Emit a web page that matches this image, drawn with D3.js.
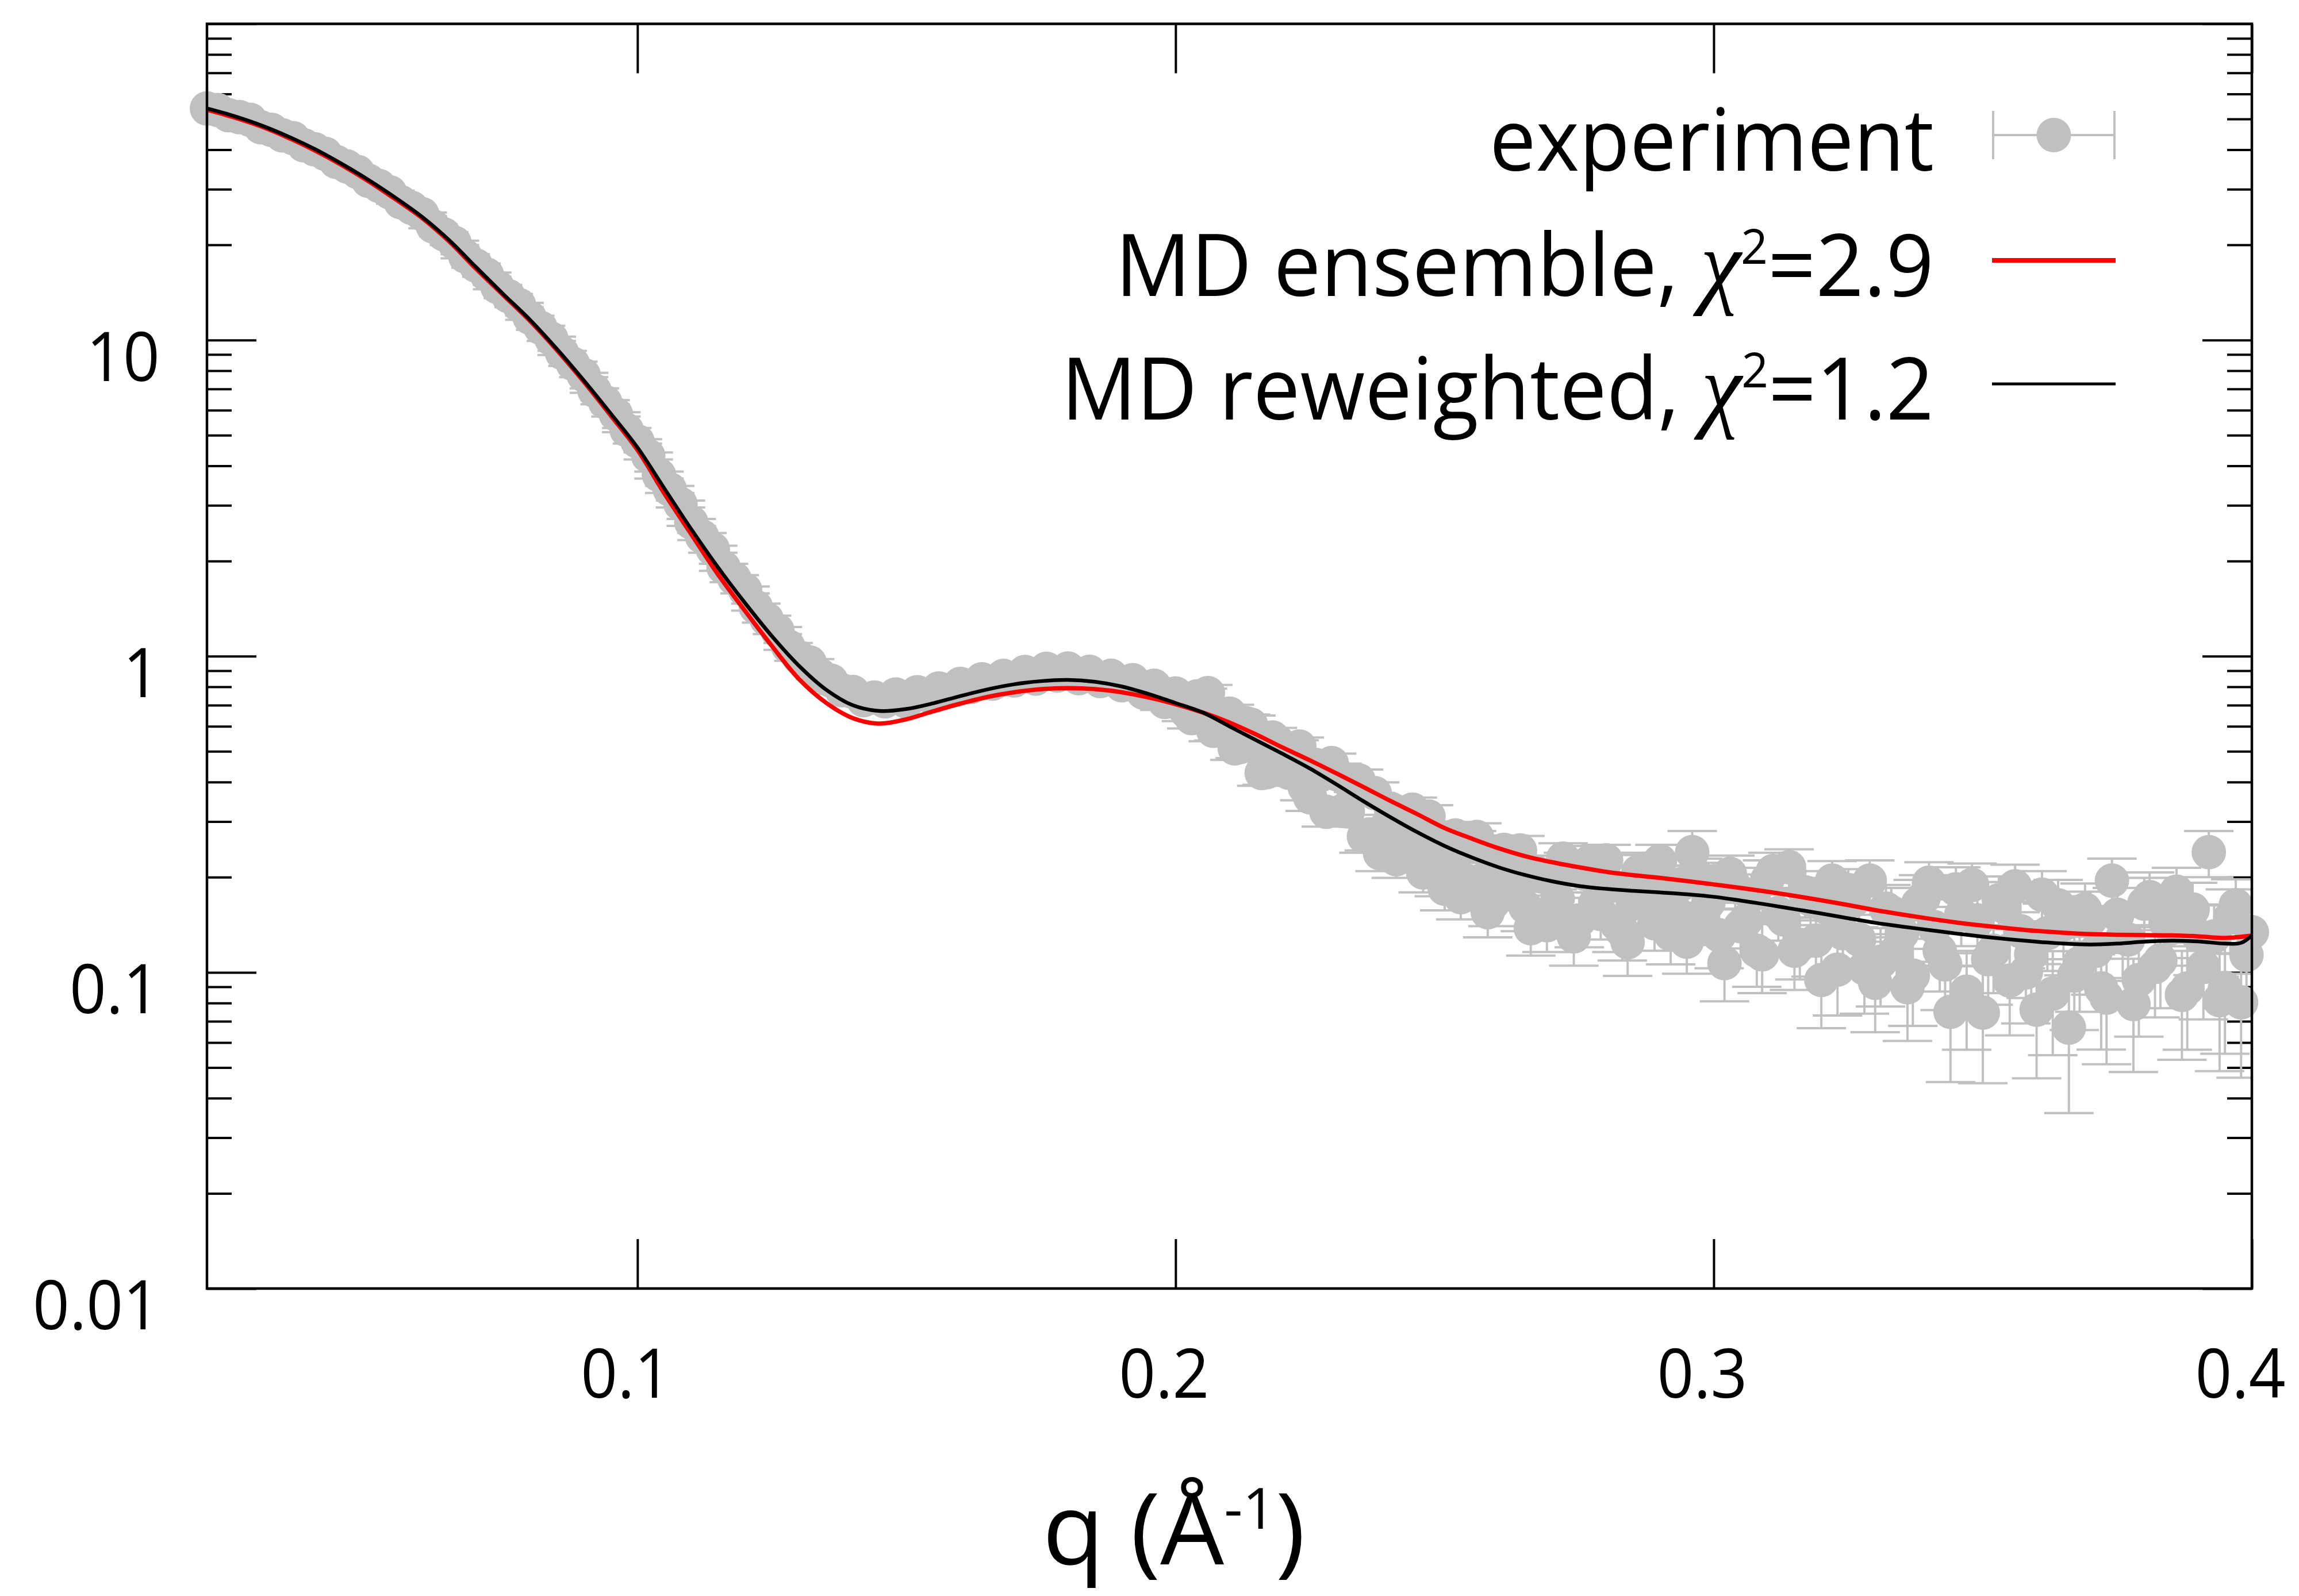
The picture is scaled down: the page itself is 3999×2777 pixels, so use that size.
<!DOCTYPE html>
<html><head><meta charset="utf-8">
<script src="https://cdn.jsdelivr.net/npm/d3@7"></script>
<style>html,body{margin:0;padding:0;background:#fff;} svg{display:block;} text{white-space:pre;}</style>
</head><body>
<svg id="chart" width="3999" height="2777"></svg>
<script>
// ---------------- DATA ----------------
// experiment, main q grid
const qExp = [
0.020,0.022,0.024,0.026,0.028,0.030,0.032,0.034,0.036,0.038,
0.040,0.042,0.044,0.046,0.048,0.050,0.052,0.054,0.056,0.058,
0.060,0.062,0.064,0.066,0.068,0.070,0.072,0.074,0.076,0.078,
0.080,0.082,0.084,0.086,0.088,0.090,0.092,0.094,0.096,0.098,
0.100,0.102,0.104,0.106,0.108,0.110,0.112,0.114,0.116,0.118,
0.120,0.122,0.124,0.126,0.128,0.130,0.132,0.134,0.136,0.138,
0.140,0.142,0.144,0.146,0.148,0.150,0.152,0.154,0.156,0.158,
0.160,0.162,0.164,0.166,0.168,0.170,0.172,0.174,0.176,0.178,
0.180,0.182,0.184,0.186,0.188,0.190,0.192,0.194,0.196,0.198,
0.200,0.202,0.204,0.206,0.208,0.210,0.212,0.214,0.216,0.218,
0.220,0.222,0.224,0.226,0.228,0.230,0.232,0.234,0.236,0.238,
0.240,0.242,0.244,0.246,0.248,0.250,0.252,0.254,0.256,0.258,
0.260,0.262,0.264,0.266,0.268,0.270,0.272,0.274,0.276,0.278,
0.280,0.282,0.284,0.286,0.288,0.290,0.292,0.294,0.296,0.298,
0.300,0.302,0.304,0.306,0.308,0.310,0.312,0.314,0.316,0.318,
0.320,0.322,0.324,0.326,0.328,0.330,0.332,0.334,0.336,0.338,
0.340,0.342,0.344,0.346,0.348,0.350,0.352,0.354,0.356,0.358,
0.360,0.362,0.364,0.366,0.368,0.370,0.372,0.374,0.376,0.378,
0.380,0.382,0.384,0.386,0.388,0.390,0.392,0.394,0.396,0.398,
0.400];
const iExp = [
54.0,53.4,51.4,50.7,49.7,47.1,46.2,44.4,43.5,41.3,
40.1,38.8,36.6,35.4,34.0,31.9,30.7,29.3,27.3,26.2,
25.0,22.9,21.6,20.3,18.4,17.2,16.1,14.7,13.77,12.9,
11.76,10.93,10.09,9.10,8.41,7.75,6.92,6.36,5.82,5.19,
4.78,4.30,3.74,3.37,3.03,2.65,2.39,2.18,1.91,1.76,
1.62,1.43,1.31,1.206,1.074,0.992,0.955,0.869,0.836,0.780,
0.771,0.726,0.740,0.720,0.756,0.718,0.769,0.751,0.790,0.776,
0.817,0.799,0.845,0.819,0.866,0.838,0.891,0.849,0.912,0.868,
0.914,0.852,0.892,0.834,0.867,0.809,0.840,0.767,0.806,0.717,
0.762,0.668,0.746,0.764,0.583,0.658,0.516,0.607,0.427,0.553,
0.447,0.504,0.385,0.453,0.322,0.423,0.323,0.405,0.273,0.238,
0.329,0.262,0.327,0.207,0.271,0.184,0.271,0.195,0.268,0.155,
0.231,0.183,0.243,0.138,0.201,0.157,0.229,0.130,0.205,0.165,
0.226,0.142,0.1245,0.208,0.168,0.225,0.132,0.190,0.240,0.149,
0.194,0.107,0.186,0.146,0.117,0.197,0.154,0.215,0.122,0.170,
0.0946,0.195,0.133,0.169,0.103,0.0927,0.159,0.117,0.0897,0.165,
0.192,0.117,0.075,0.152,0.189,0.0746,0.117,0.161,0.187,0.0999,
0.0762,0.133,0.163,0.0669,0.107,0.147,0.089,0.195,0.129,0.0794,
0.165,0.104,0.144,0.180,0.0889,0.131,0.240,0.0817,0.149,0.0804,
0.134];
const errExp = [
0.65,0.64,0.62,0.61,0.60,0.58,0.56,0.54,0.53,0.50,
0.49,0.47,0.45,0.43,0.42,0.39,0.38,0.36,0.33,0.32,
0.31,0.35,0.33,0.31,0.28,0.26,0.25,0.23,0.21,0.20,
0.18,0.17,0.155,0.14,0.13,0.12,0.11,0.097,0.089,0.080,
0.073,0.11,0.095,0.086,0.077,0.067,0.061,0.055,0.049,0.045,
0.041,0.036,0.033,0.031,0.027,0.025,0.024,0.022,0.021,0.020,
0.019,0.029,0.030,0.029,0.031,0.030,0.032,0.032,0.034,0.034,
0.036,0.036,0.038,0.037,0.040,0.039,0.042,0.040,0.044,0.042,
0.045,0.043,0.045,0.043,0.045,0.043,0.045,0.042,0.045,0.041,
0.045,0.045,0.046,0.047,0.042,0.044,0.040,0.042,0.038,0.040,
0.037,0.038,0.035,0.036,0.033,0.034,0.032,0.033,0.030,0.029,
0.031,0.029,0.030,0.028,0.029,0.027,0.028,0.027,0.028,0.026,
0.027,0.026,0.027,0.025,0.026,0.026,0.027,0.025,0.026,0.026,
0.027,0.026,0.027,0.027,0.026,0.028,0.026,0.027,0.040,0.027,
0.028,0.026,0.028,0.027,0.027,0.029,0.028,0.030,0.027,0.029,
0.028,0.030,0.029,0.030,0.029,0.028,0.030,0.029,0.029,0.031,
0.031,0.030,0.030,0.031,0.032,0.030,0.031,0.032,0.032,0.031,
0.030,0.032,0.033,0.031,0.032,0.033,0.032,0.034,0.033,0.031,
0.034,0.032,0.033,0.034,0.032,0.033,0.040,0.033,0.034,0.034,
0.035];
// experiment, interleaved high-q points
const qExpHi = [
0.201,0.203,0.205,0.207,0.209,0.211,0.213,0.215,0.217,0.219,
0.221,0.223,0.225,0.227,0.229,0.231,0.233,0.235,0.237,0.239,
0.241,0.243,0.245,0.247,0.249,0.251,0.253,0.255,0.257,0.259,
0.261,0.263,0.265,0.267,0.269,0.271,0.273,0.275,0.277,0.279,
0.281,0.283,0.285,0.287,0.289,0.291,0.293,0.295,0.297,0.299,
0.301,0.303,0.305,0.307,0.309,0.311,0.313,0.315,0.317,0.319,
0.321,0.323,0.325,0.327,0.329,0.331,0.333,0.335,0.337,0.339,
0.341,0.343,0.345,0.347,0.349,0.351,0.353,0.355,0.357,0.359,
0.361,0.363,0.365,0.367,0.369,0.371,0.373,0.375,0.377,0.379,
0.381,0.383,0.385,0.387,0.389,0.391,0.393,0.395,0.397,0.399];
const iExpHi = [
0.735,0.637,0.745,0.581,0.626,0.511,0.614,0.518,0.430,0.535,
0.428,0.518,0.358,0.421,0.459,0.324,0.378,0.269,0.369,0.286,
0.228,0.294,0.236,0.311,0.201,0.236,0.173,0.253,0.196,0.166,
0.244,0.193,0.161,0.207,0.141,0.171,0.213,0.146,0.224,0.153,
0.188,0.135,0.165,0.212,0.143,0.191,0.155,0.125,0.201,0.166,
0.131,0.205,0.140,0.175,0.114,0.209,0.147,0.117,0.179,0.126,
0.160,0.102,0.182,0.127,0.195,0.108,0.155,0.133,0.0977,0.172,
0.139,0.106,0.183,0.0869,0.146,0.110,0.169,0.0942,0.135,0.114,
0.176,0.0857,0.142,0.0977,0.158,0.117,0.0832,0.152,0.127,0.0946,
0.173,0.109,0.138,0.0849,0.158,0.104,0.130,0.0893,0.163,0.1135];
const errExpHi = [
0.045,0.046,0.044,0.043,0.042,0.041,0.040,0.039,0.038,0.037,
0.036,0.035,0.034,0.033,0.033,0.032,0.031,0.030,0.030,0.029,
0.029,0.028,0.028,0.027,0.027,0.027,0.026,0.027,0.026,0.026,
0.027,0.026,0.026,0.027,0.025,0.026,0.026,0.026,0.027,0.026,
0.027,0.026,0.027,0.027,0.026,0.027,0.027,0.026,0.028,0.027,
0.028,0.029,0.028,0.029,0.028,0.030,0.029,0.029,0.030,0.029,
0.030,0.029,0.030,0.030,0.031,0.030,0.030,0.031,0.030,0.031,
0.031,0.030,0.032,0.030,0.031,0.031,0.032,0.031,0.032,0.031,
0.033,0.031,0.032,0.032,0.033,0.032,0.032,0.033,0.033,0.032,
0.034,0.032,0.033,0.032,0.034,0.033,0.033,0.034,0.034,0.034];

const qEnsemble = [
0.020,0.025,0.030,0.035,0.040,0.045,0.050,0.055,0.060,0.065,
0.070,0.075,0.080,0.085,0.090,0.095,0.100,0.105,0.110,0.115,
0.120,0.125,0.130,0.135,0.140,0.145,0.150,0.155,0.160,0.165,
0.170,0.175,0.180,0.185,0.190,0.195,0.200,0.205,0.210,0.215,
0.220,0.225,0.230,0.235,0.240,0.245,0.250,0.255,0.260,0.265,
0.270,0.275,0.280,0.285,0.290,0.295,0.300,0.305,0.310,0.315,
0.320,0.325,0.330,0.335,0.340,0.345,0.350,0.355,0.360,0.365,
0.370,0.375,0.380,0.385,0.390,0.395,0.400];
const iEnsemble = [
53.5,50.6,47.4,43.7,39.8,35.8,31.8,27.9,24.3,20.5,
16.8,13.9,11.5,9.30,7.39,5.78,4.49,3.27,2.43,1.81,
1.39,1.076,0.847,0.713,0.637,0.612,0.632,0.670,0.708,0.743,
0.769,0.787,0.793,0.787,0.769,0.740,0.705,0.664,0.617,0.565,
0.513,0.468,0.425,0.385,0.348,0.316,0.286,0.265,0.247,0.233,
0.223,0.215,0.208,0.203,0.199,0.1945,0.1897,0.1849,0.1799,0.1746,
0.1690,0.1633,0.1574,0.1524,0.1479,0.1439,0.1406,0.1377,0.1352,0.1334,
0.1321,0.1315,0.1312,0.1309,0.1300,0.1285,0.1306];

const qReweighted = [
0.020,0.025,0.030,0.035,0.040,0.045,0.050,0.055,0.060,0.065,
0.070,0.075,0.080,0.085,0.090,0.095,0.100,0.105,0.110,0.115,
0.120,0.125,0.130,0.135,0.140,0.145,0.150,0.155,0.160,0.165,
0.170,0.175,0.180,0.185,0.190,0.195,0.200,0.205,0.210,0.215,
0.220,0.225,0.230,0.235,0.240,0.245,0.250,0.255,0.260,0.265,
0.270,0.275,0.280,0.285,0.290,0.295,0.300,0.305,0.310,0.315,
0.320,0.325,0.330,0.335,0.340,0.345,0.350,0.355,0.360,0.365,
0.370,0.375,0.380,0.385,0.390,0.395,0.398,0.400];
const iReweighted = [
54.0,51.1,47.8,44.1,40.2,36.1,32.1,28.2,24.5,20.7,
17.0,14.0,11.6,9.38,7.46,5.86,4.57,3.39,2.52,1.905,
1.472,1.156,0.933,0.785,0.700,0.671,0.681,0.710,0.748,0.785,
0.815,0.834,0.841,0.830,0.802,0.759,0.711,0.664,0.600,0.542,
0.490,0.441,0.392,0.347,0.309,0.277,0.251,0.231,0.215,0.203,
0.194,0.1875,0.1837,0.1811,0.179,0.1766,0.1734,0.1687,0.1637,0.1585,
0.1535,0.1483,0.1435,0.1396,0.1361,0.1327,0.1297,0.1271,0.1250,0.1233,
0.1225,0.1233,0.1250,0.1259,0.1253,0.1233,0.1240,0.1309];

const xTicks = [0.1, 0.2, 0.3, 0.4];
const xTickLabels = ["0.1", "0.2", "0.3", "0.4"];
const yMajorTicks = [0.01, 0.1, 1, 10, 100];
const yTickLabels = ["0.01", "0.1", "1", "10"];
const yMinorTicks = [0.02,0.03,0.04,0.05,0.06,0.07,0.08,0.09,
                     0.2,0.3,0.4,0.5,0.6,0.7,0.8,0.9,
                     2,3,4,5,6,7,8,9,
                     20,30,40,50,60,70,80,90];
const legendNames = ["experiment", "MD ensemble, ", "MD reweighted, "];
const chiValues = [null, "=2.9", "=1.2"];
const xTitleParts = ["q (Å", "-1", ")"];

// ---------------- LAYOUT ----------------
const W = 3999, H = 2777;
const FONT = "'Open Sans', 'Noto Sans', 'DejaVu Sans', sans-serif";
const GREY = "#c0c0c0";
const plot = {left: 360, right: 3917, top: 41.5, bottom: 2242};

const svg = d3.select("#chart");
svg.append("rect").attr("width", W).attr("height", H).attr("fill", "#fff");

const x = d3.scaleLinear().domain([0.02, 0.4]).range([plot.left, plot.right]);
const y = d3.scaleLog().domain([0.01, 100]).range([plot.bottom, plot.top]);

svg.append("defs").append("clipPath").attr("id", "clip").append("rect")
  .attr("x", plot.left).attr("y", plot.top)
  .attr("width", plot.right - plot.left).attr("height", plot.bottom - plot.top);

// ticks (behind data)
function styleTicks(g) {
  g.select(".domain").remove();
  g.selectAll(".tick line").attr("stroke", "#000").attr("stroke-width", 4);
  g.selectAll(".tick text").remove();
}
const MAJ = 86, MIN = 43;
const tickG = svg.append("g");
tickG.append("g").attr("transform", `translate(${plot.left},0)`)
  .call(d3.axisLeft(y).tickValues(yMajorTicks).tickSize(-MAJ).tickSizeOuter(0)).call(styleTicks);
tickG.append("g").attr("transform", `translate(${plot.left},0)`)
  .call(d3.axisLeft(y).tickValues(yMinorTicks).tickSize(-MIN).tickSizeOuter(0)).call(styleTicks);
tickG.append("g").attr("transform", `translate(${plot.right},0)`)
  .call(d3.axisRight(y).tickValues(yMajorTicks).tickSize(-MAJ).tickSizeOuter(0)).call(styleTicks);
tickG.append("g").attr("transform", `translate(${plot.right},0)`)
  .call(d3.axisRight(y).tickValues(yMinorTicks).tickSize(-MIN).tickSizeOuter(0)).call(styleTicks);
tickG.append("g").attr("transform", `translate(0,${plot.bottom})`)
  .call(d3.axisBottom(x).tickValues(xTicks).tickSize(-MAJ).tickSizeOuter(0)).call(styleTicks);
tickG.append("g").attr("transform", `translate(0,${plot.top})`)
  .call(d3.axisTop(x).tickValues(xTicks).tickSize(-MAJ).tickSizeOuter(0)).call(styleTicks);

// experimental data
const exp = qExp.map((q, i) => ({q, I: iExp[i], e: errExp[i]}))
  .concat(qExpHi.map((q, i) => ({q, I: iExpHi[i], e: errExpHi[i]})));
const CAP = 43;
const eb = svg.append("g").attr("clip-path", "url(#clip)")
  .attr("stroke", GREY).attr("stroke-width", 4).attr("fill", "none");
const ebg = eb.selectAll("g").data(exp).join("g");
ebg.append("line")
  .attr("x1", d => x(d.q)).attr("x2", d => x(d.q))
  .attr("y1", d => y(d.I - d.e)).attr("y2", d => y(d.I + d.e));
ebg.append("line")
  .attr("x1", d => x(d.q) - CAP).attr("x2", d => x(d.q) + CAP)
  .attr("y1", d => y(d.I - d.e)).attr("y2", d => y(d.I - d.e));
ebg.append("line")
  .attr("x1", d => x(d.q) - CAP).attr("x2", d => x(d.q) + CAP)
  .attr("y1", d => y(d.I + d.e)).attr("y2", d => y(d.I + d.e));
svg.append("g").attr("fill", GREY).selectAll("circle").data(exp).join("circle")
  .attr("cx", d => x(d.q)).attr("cy", d => y(d.I)).attr("r", 30);

// model curves
const line = d3.line().x(d => x(d[0])).y(d => y(d[1])).curve(d3.curveCatmullRom.alpha(0.5));
svg.append("path").datum(d3.zip(qEnsemble, iEnsemble)).attr("d", line)
  .attr("fill", "none").attr("stroke", "#ff0000").attr("stroke-width", 7.5).attr("stroke-linejoin", "round");
svg.append("path").datum(d3.zip(qReweighted, iReweighted)).attr("d", line)
  .attr("fill", "none").attr("stroke", "#000").attr("stroke-width", 6.5).attr("stroke-linejoin", "round");

// border
svg.append("rect").attr("x", plot.left).attr("y", plot.top)
  .attr("width", plot.right - plot.left).attr("height", plot.bottom - plot.top)
  .attr("fill", "none").attr("stroke", "#000").attr("stroke-width", 4.5);

function fit(sel, targetW, ax, ay) {
  const w = sel.node().getBBox().width;
  const s = targetW / w;
  sel.attr("transform", `translate(${ax},${ay}) scale(${s},1)`);
  return s;
}

// tick labels
const TICK_FS = 119;
const probe = svg.append("text").attr("font-family", FONT).attr("font-size", TICK_FS).text("0.01");
const tickSX = 221 / probe.node().getBBox().width;
probe.remove();
yTickLabels.forEach((lab, i) => {
  svg.append("text").attr("font-family", FONT).attr("font-size", TICK_FS)
    .attr("text-anchor", "end").text(lab)
    .attr("transform", `translate(278,${y(yMajorTicks[i]) + 71}) scale(${tickSX},1)`);
});
xTickLabels.forEach((lab, i) => {
  svg.append("text").attr("font-family", FONT).attr("font-size", TICK_FS)
    .attr("text-anchor", "middle").text(lab)
    .attr("transform", `translate(${x(xTicks[i]) - 20},${plot.bottom + 190}) scale(${tickSX},1)`);
});

// x title
const tt = svg.append("text").attr("font-family", FONT).attr("font-size", 172).attr("text-anchor", "middle");
tt.append("tspan").text(xTitleParts[0]);
tt.append("tspan").attr("font-size", 98).attr("dy", -62).text(xTitleParts[1]);
tt.append("tspan").attr("dy", 62).text(xTitleParts[2]);
fit(tt, 457, 2042, 2722);

// legend
const LEG_FS = 151;
const legBase = [297, 515, 730];
const legTarget = [773, 1424, 1518];
const LEG_RIGHT = 3364;
legendNames.forEach((name, i) => {
  const t = svg.append("text").attr("font-family", FONT).attr("font-size", LEG_FS).attr("text-anchor", "end");
  t.append("tspan").text(name);
  if (chiValues[i]) {
    t.append("tspan").attr("font-family", "'Liberation Serif', 'DejaVu Serif', serif")
      .attr("font-style", "italic").attr("font-size", 165).text("χ");
    t.append("tspan").attr("font-size", 85).attr("dy", -56).text("2");
    t.append("tspan").attr("dy", 56).text(chiValues[i]);
  }
  fit(t, legTarget[i], LEG_RIGHT, legBase[i]);
});
const sx1 = 3465, sx2 = 3680;
const sy = legBase.map(b => b - 62);
const lg = svg.append("g");
lg.append("line").attr("x1", sx1).attr("x2", sx2).attr("y1", sy[0]).attr("y2", sy[0])
  .attr("stroke", GREY).attr("stroke-width", 4);
[sx1 + 2, sx2 - 2].forEach(cx => lg.append("line").attr("x1", cx).attr("x2", cx)
  .attr("y1", sy[0] - 42).attr("y2", sy[0] + 42).attr("stroke", GREY).attr("stroke-width", 4));
lg.append("circle").attr("cx", (sx1 + sx2) / 2).attr("cy", sy[0]).attr("r", 30).attr("fill", GREY);
lg.append("line").attr("x1", sx1).attr("x2", sx2).attr("y1", sy[1]).attr("y2", sy[1])
  .attr("stroke", "#ff0000").attr("stroke-width", 8);
lg.append("line").attr("x1", sx1).attr("x2", sx2).attr("y1", sy[2]).attr("y2", sy[2])
  .attr("stroke", "#000").attr("stroke-width", 5);
</script>
</body></html>
